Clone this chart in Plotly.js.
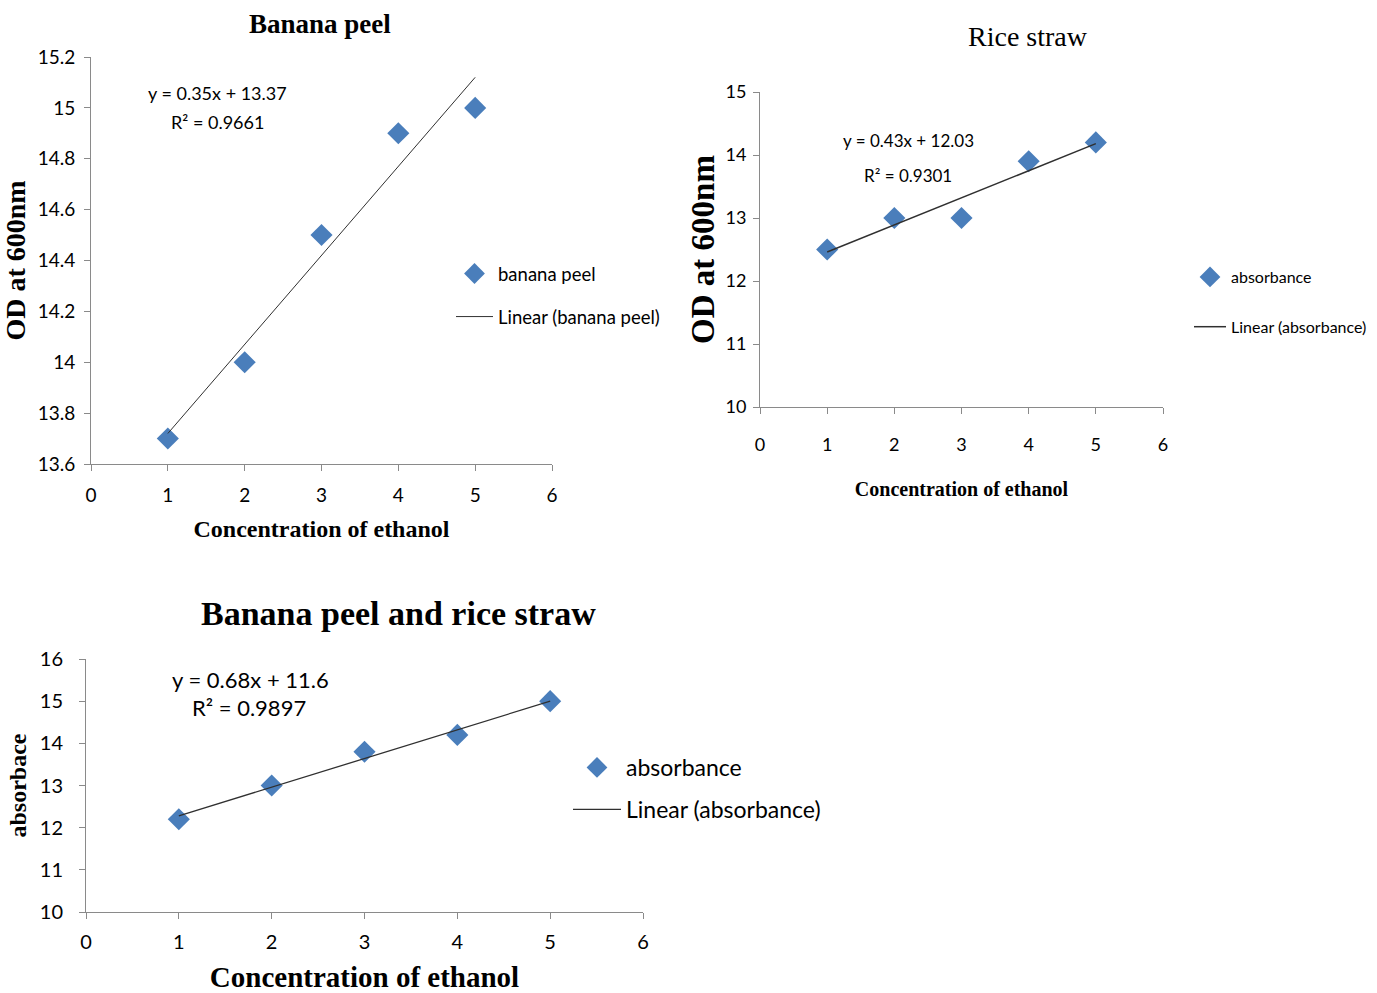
<!DOCTYPE html>
<html>
<head>
<meta charset="utf-8">
<script src="https://cdn.plot.ly/plotly-3.0.1.min.js"></script>
<style>html,body{margin:0;padding:0;background:#fff;overflow:hidden;}#chart{width:1377px;height:993px;}</style>
</head>
<body>
<div id="chart"></div>
<script>
// ---- data ----
const concentration = [1, 2, 3, 4, 5];
const bananaPeelOD = [13.7, 14.0, 14.5, 14.9, 15.0];
const riceStrawOD = [12.5, 13.0, 13.0, 13.9, 14.2];
const mixAbsorbance = [12.2, 13.0, 13.8, 14.2, 15.0];

// trendline endpoints (x = 1 and x = 5)
const trendX = [1, 5];
const bananaTrendY = [13.72, 15.12];
const riceTrendY = [12.46, 14.18];
const mixTrendY = [12.28, 15.0];

const titles = ["Banana peel", "Rice straw", "Banana peel and rice straw"];
const equations = ["y = 0.35x + 13.37", "y = 0.43x + 12.03", "y = 0.68x + 11.6"];
const rSquared = ["R² = 0.9661", "R² = 0.9301", "R² = 0.9897"];
const xTitle = "Concentration of ethanol";
const yTitles = ["OD at 600nm", "OD at 600nm", "absorbace"];
const seriesNames = ["banana peel", "absorbance", "absorbance"];
const trendNames = ["Linear (banana peel)", "Linear (absorbance)", "Linear (absorbance)"];

// ---- styles ----
const W = 1377, H = 993;
const px = v => v / W;
const py = v => 1 - v / H;
const blue = "#4A7EBB";
const sans = "Lato, Liberation Sans, sans-serif";
const serif = "Liberation Serif, Times New Roman, serif";

function scatter(x, y, name, xa, ya, lg) {
  return {x: x, y: y, type: "scatter", mode: "markers", name: name, xaxis: xa, yaxis: ya,
    legend: lg, legendgroup: lg + "a",
    marker: {symbol: "diamond", size: 17, color: blue}};
}
function trend(x, y, name, xa, ya, lg, w) {
  return {x: x, y: y, type: "scatter", mode: "lines", name: name, xaxis: xa, yaxis: ya,
    legend: lg, legendgroup: lg + "b",
    line: {color: "#303030", width: w}};
}

const data = [
  scatter(concentration, bananaPeelOD, seriesNames[0], "x", "y", "legend"),
  trend(trendX, bananaTrendY, trendNames[0], "x", "y", "legend", 1),
  scatter(concentration, riceStrawOD, seriesNames[1], "x2", "y2", "legend2"),
  trend(trendX, riceTrendY, trendNames[1], "x2", "y2", "legend2", 1.5),
  scatter(concentration, mixAbsorbance, seriesNames[2], "x3", "y3", "legend3"),
  trend(trendX, mixTrendY, trendNames[2], "x3", "y3", "legend3", 1.3)
];

function xaxis(domain, anchor, font, lblOff, titleFont, standoff) {
  return {domain: domain, anchor: anchor, range: [0, 6], dtick: 1, tick0: 0,
    showgrid: false, zeroline: false, showline: true, linecolor: "#8a8a8a", linewidth: 1,
    ticks: "outside", ticklen: 6, tickcolor: "#8a8a8a", tickfont: font, ticklabelstandoff: lblOff,
    title: {text: xTitle, font: titleFont, standoff: standoff}, fixedrange: true};
}
function yaxis(domain, anchor, range, dtick, font, lblOff, title, titleFont, standoff) {
  return {domain: domain, anchor: anchor, range: range, dtick: dtick, tick0: range[0],
    showgrid: false, zeroline: false, showline: true, linecolor: "#8a8a8a", linewidth: 1,
    ticks: "outside", ticklen: 6, tickcolor: "#8a8a8a", tickfont: font, ticklabelstandoff: lblOff,
    title: {text: title, font: titleFont, standoff: standoff}, fixedrange: true};
}

const f1 = {family: sans, size: 19, color: "#000"};
const f2 = {family: sans, size: 18, color: "#000"};
const f3 = {family: sans, size: 20, color: "#000"};

function legend(x, y, font, gap, iw) {
  return {x: px(x), y: py(y), xanchor: "left", yanchor: "top", font: font, bgcolor: "rgba(0,0,0,0)",
    borderwidth: 0, traceorder: "grouped", tracegroupgap: gap, itemwidth: iw};
}

function ann(text, x, y, font) {
  return {text: text, x: px(x), y: py(y), xref: "paper", yref: "paper",
    xanchor: "center", yanchor: "middle", showarrow: false, font: font};
}

const layout = {
  width: W, height: H, margin: {l: 0, r: 0, t: 0, b: 0, autoexpand: false},
  paper_bgcolor: "#fff", plot_bgcolor: "#fff", showlegend: true,
  xaxis: xaxis([px(91), px(552)], "y", f1, 8, {family: serif, size: 24, color: "#000", weight: "bold"}, 15),
  yaxis: yaxis([py(464), py(57)], "x", [13.6, 15.2], 0.2, f1, 5, yTitles[0], {family: serif, size: 28, color: "#000", weight: "bold"}, 3),
  xaxis2: xaxis([px(760), px(1163)], "y2", f2, 15, {family: serif, size: 20, color: "#000", weight: "bold"}, 28),
  yaxis2: yaxis([py(407), py(92)], "x2", [10, 15], 1, f2, 3, yTitles[1], {family: serif, size: 33, color: "#000", weight: "bold"}, 0),
  xaxis3: xaxis([px(86), px(643)], "y3", f3, 6, {family: serif, size: 29, color: "#000", weight: "bold"}, 18),
  yaxis3: yaxis([py(912), py(659)], "x3", [10, 16], 1, f3, 12, yTitles[2], {family: serif, size: 24, color: "#000", weight: "bold"}, 6),
  legend: legend(451, 255, {family: sans, size: 18.5, color: "#000"}, 16, 37),
  legend2: legend(1189, 260, {family: sans, size: 16, color: "#000"}, 26, 32),
  legend3: legend(568, 746, {family: sans, size: 23, color: "#000"}, 9, 48),
  annotations: [
    ann(titles[0], 320, 24, {family: serif, size: 27, color: "#000", weight: "bold"}),
    ann(titles[1], 1028, 36, {family: serif, size: 28, color: "#000"}),
    ann(titles[2], 398, 613, {family: serif, size: 34, color: "#000", weight: "bold"}),
    ann(equations[0], 218, 93, {family: sans, size: 18, color: "#000"}),
    ann(rSquared[0], 218, 122, {family: sans, size: 18, color: "#000"}),
    ann(equations[1], 908, 140, {family: sans, size: 17, color: "#000"}),
    ann(rSquared[1], 908, 175, {family: sans, size: 17, color: "#000"}),
    ann(equations[2], 250, 679, {family: sans, size: 22, color: "#000"}),
    ann(rSquared[2], 249, 707, {family: sans, size: 22, color: "#000"})
  ]
};

Plotly.newPlot("chart", data, layout, {staticPlot: true, displayModeBar: false});
</script>
</body>
</html>
